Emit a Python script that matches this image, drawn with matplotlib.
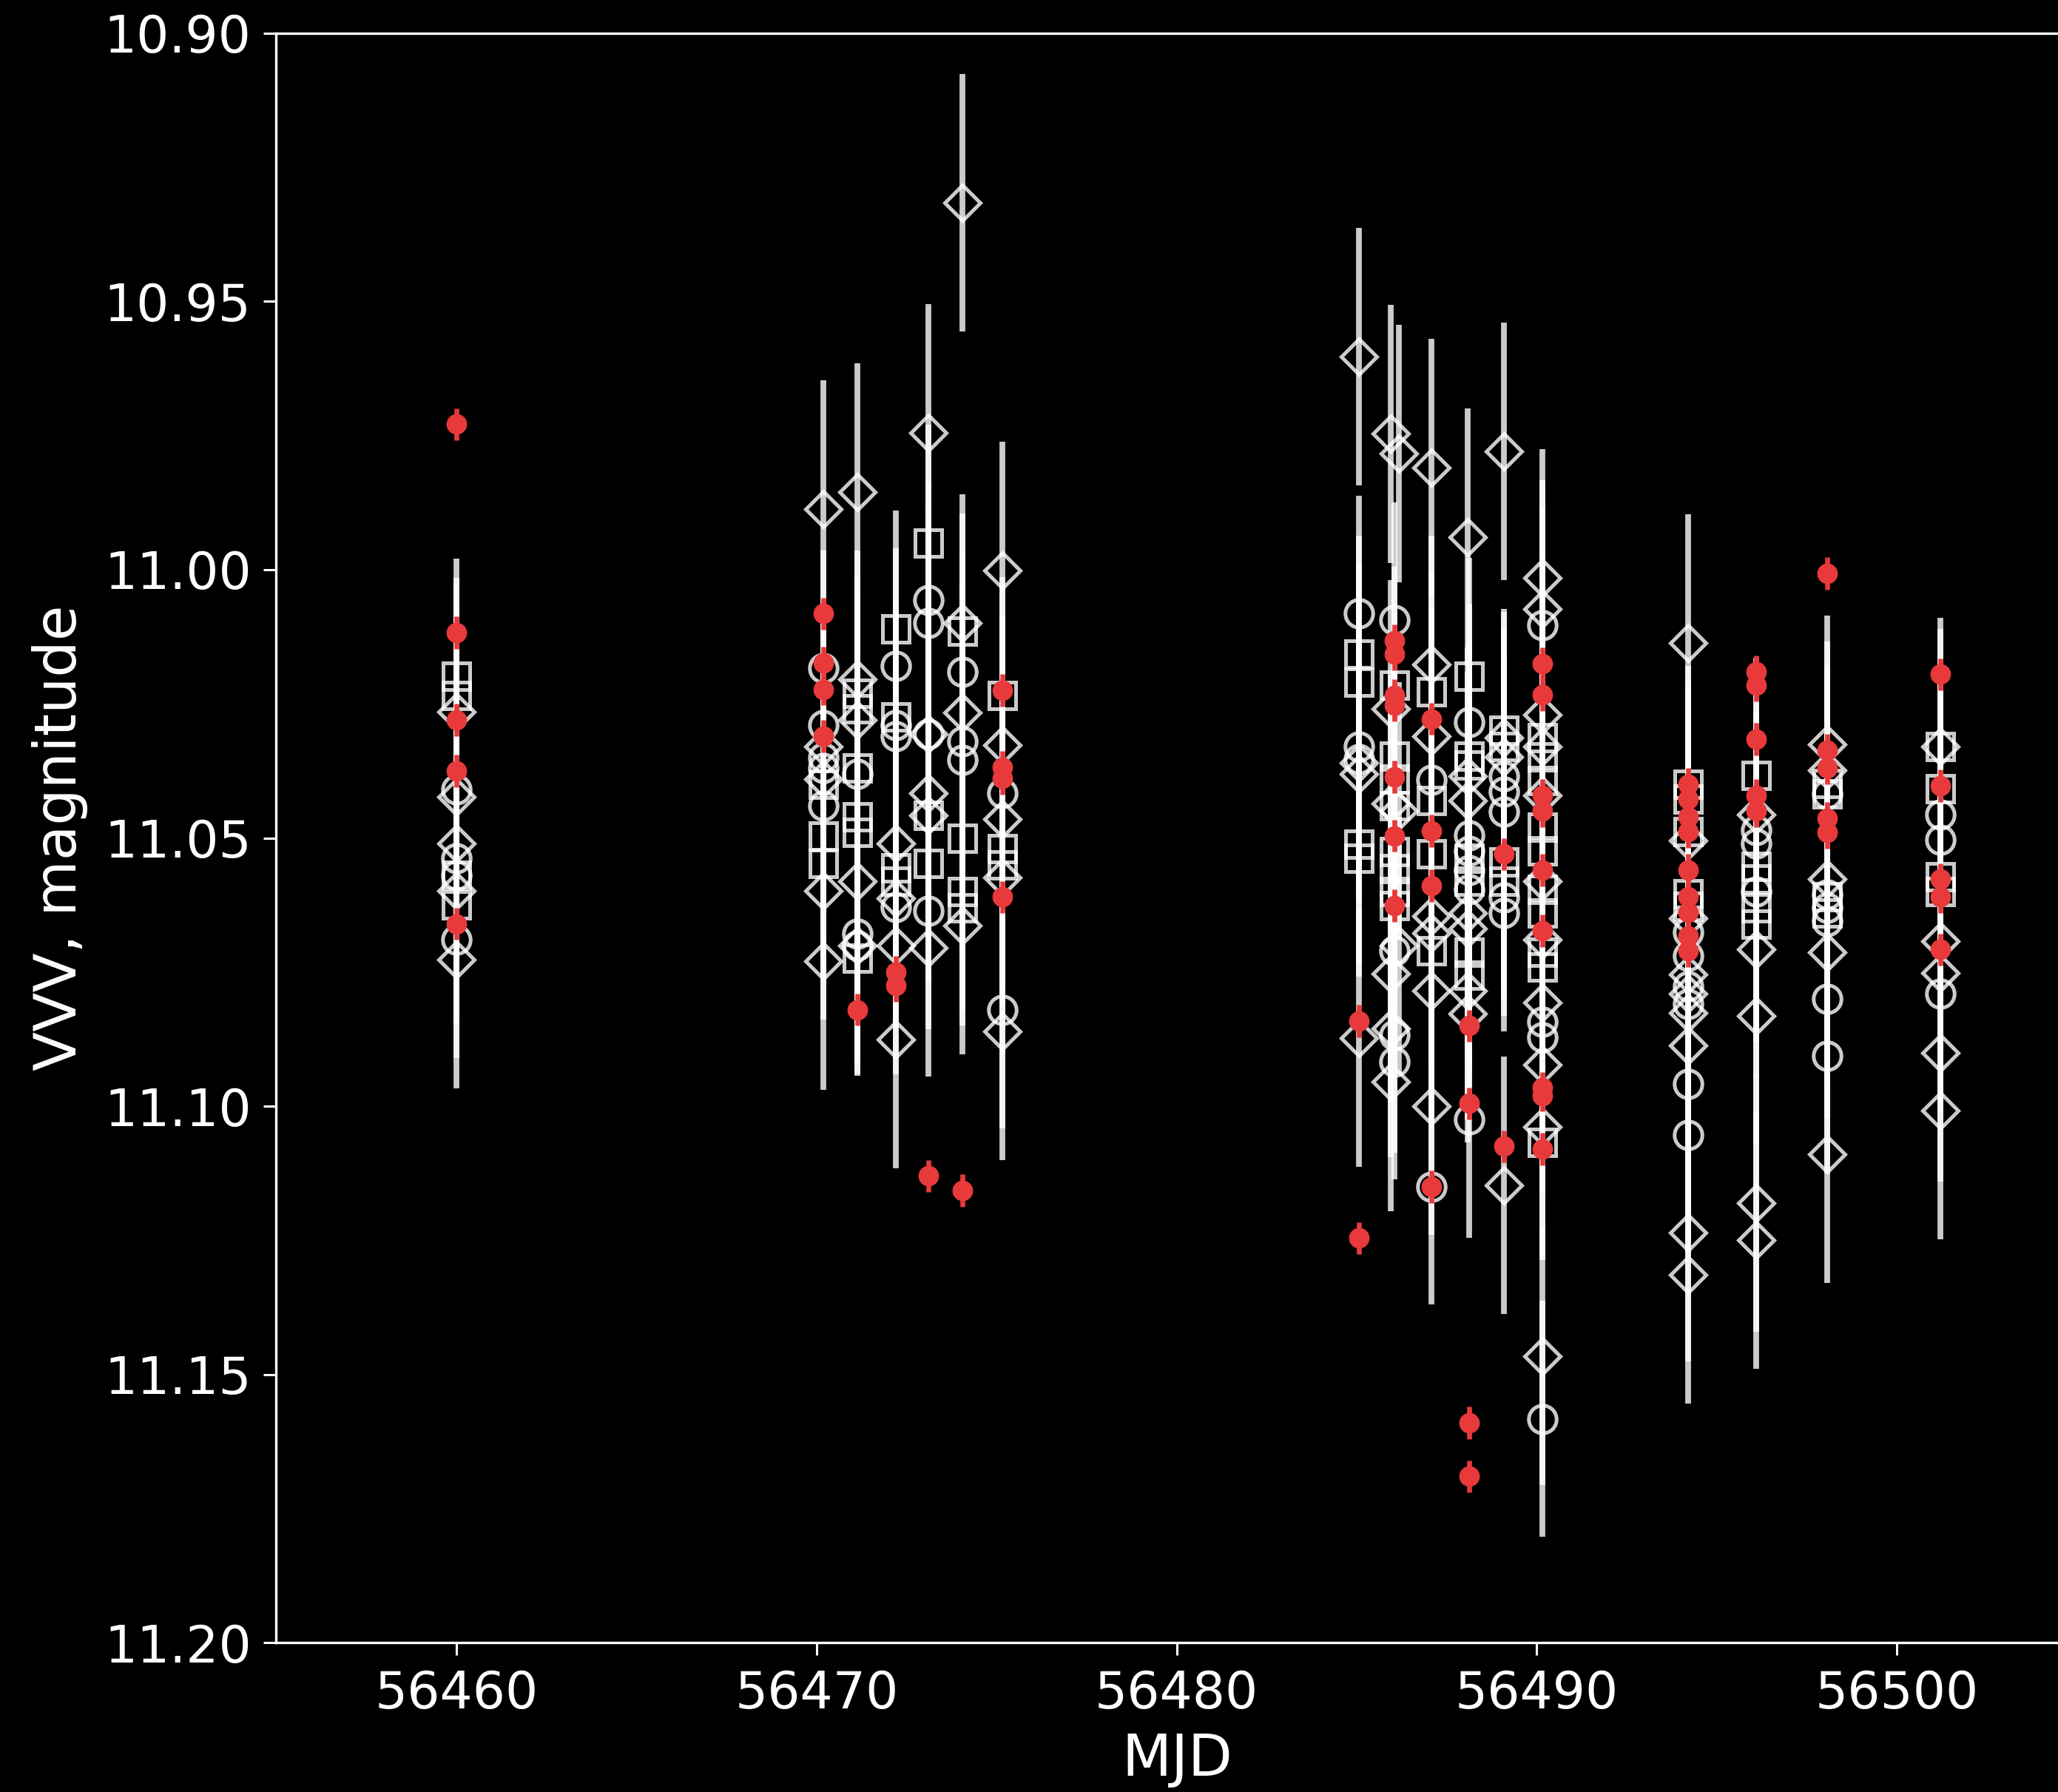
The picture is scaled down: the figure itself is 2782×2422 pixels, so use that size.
import matplotlib
matplotlib.use("Agg")
import matplotlib.pyplot as plt
from matplotlib.ticker import FormatStrFormatter, FixedLocator

# ---------------- data ----------------
circle_mjd = ([56460.0]*4 + [56470.18]*5 + [56471.13]*3 + [56472.19]*4 + [56473.1]*4 +
              [56474.05]*3 + [56475.15]*2 + [56485.07]*3 + [56486.05]*4 + [56487.08]*2 +
              [56488.12]*6 + [56489.09]*5 + [56490.15]*4 + [56494.2]*6 + [56496.1]*3 +
              [56498.07]*6 + [56501.2]*3)
circle_mag = [11.041, 11.0538, 11.057, 11.069,
              11.0184, 11.029, 11.035, 11.037, 11.044,
              11.038, 11.0679, 11.070,
              11.018, 11.029, 11.031, 11.0629,
              11.0057, 11.010, 11.0306, 11.0636,
              11.019, 11.032, 11.0355,
              11.0417, 11.0821,
              11.0082, 11.0329, 11.0353,
              11.0094, 11.071, 11.0867, 11.0917,
              11.0392, 11.115,
              11.0284, 11.0495, 11.0524, 11.056, 11.0596, 11.1025,
              11.0385, 11.0414, 11.0451, 11.0611, 11.064,
              11.0103, 11.0843, 11.0872, 11.1583,
              11.0676, 11.072, 11.0777, 11.081, 11.0959, 11.1053,
              11.0485, 11.051, 11.060,
              11.0418, 11.0606, 11.063, 11.0655, 11.080, 11.0906,
              11.0456, 11.0504, 11.079]
circle_err = 0.022

square_mjd = ([56460.0]*4 + [56470.18]*3 + [56471.13]*6 + [56472.19]*4 + [56473.1]*3 +
              [56474.05]*4 + [56475.15]*3 + [56485.07]*4 + [56486.05]*8 + [56487.08]*4 +
              [56488.12]*7 + [56489.09]*4 + [56490.15]*10 + [56494.2]*5 + [56496.1]*5 +
              [56498.07]*4 + [56501.2]*4)
square_mag = [11.0199, 11.0235, 11.057, 11.0625,
              11.040, 11.0497, 11.0548,
              11.023, 11.026, 11.037, 11.046, 11.049, 11.0724,
              11.011, 11.0275, 11.0556, 11.058,
              10.995, 11.0458, 11.0547,
              11.0115, 11.050, 11.060, 11.063,
              11.0234, 11.052, 11.055,
              11.0157, 11.0209, 11.0512, 11.0538,
              11.0215, 11.0348, 11.039, 11.044, 11.0525, 11.0557, 11.060, 11.0626,
              11.0227, 11.043, 11.053, 11.071,
              11.0198, 11.0348, 11.0364, 11.0538, 11.058, 11.0713, 11.0756,
              11.0299, 11.033, 11.0545, 11.058,
              11.0313, 11.0349, 11.0393, 11.048, 11.0524, 11.0596, 11.064, 11.0713, 11.074, 11.1067,
              11.040, 11.0428, 11.0488, 11.0604, 11.0627,
              11.0384, 11.0553, 11.0577, 11.063, 11.066,
              11.0398, 11.0418, 11.061, 11.064,
              11.033, 11.0408, 11.0572, 11.060]
square_err = 0.022

diamond_mjd = ([56460.0]*5 + [56470.18]*5 + [56471.13]*5 + [56472.19]*4 + [56473.1]*5 +
               [56474.05]*4 + [56475.15]*5 + [56485.07]*4 + [56485.95]*6 + [56486.17]*3 +
               [56487.08]*7 + [56488.07]*7 + [56489.09]*4 + [56490.15]*11 + [56494.2]*9 +
               [56496.1]*5 + [56498.07]*5 + [56501.2]*5)
diamond_mag = [11.0265, 11.0424, 11.051, 11.0598, 11.0727,
               10.9887, 11.033, 11.039, 11.0599, 11.073,
               10.9855, 11.0204, 11.028, 11.058, 11.070,
               11.051, 11.0613, 11.070, 11.0876,
               10.9745, 11.0306, 11.0417, 11.0458, 11.0705,
               10.9316, 11.010, 11.0266, 11.0663,
               11.0002, 11.0327, 11.0465, 11.0574, 11.086,
               10.9603, 11.036, 11.038, 11.0873,
               10.9747, 11.026, 11.0436, 11.0753, 11.0855, 11.0955,
               10.9784, 11.045, 11.070,
               10.981, 11.0177, 11.031, 11.0646, 11.0677, 11.0785, 11.100,
               10.994, 11.0385, 11.043, 11.064, 11.0669, 11.0785, 11.0828,
               10.978, 11.0313, 11.0349, 11.1147,
               11.0015, 11.0073, 11.027, 11.033, 11.042, 11.058, 11.069, 11.0807, 11.0923, 11.1038, 11.1466,
               11.0137, 11.0505, 11.0649, 11.0754, 11.079, 11.0826, 11.0887, 11.1236, 11.1314,
               11.0456, 11.0708, 11.0832, 11.118, 11.125,
               11.0326, 11.0374, 11.0577, 11.0713, 11.109,
               11.033, 11.0693, 11.0751, 11.090, 11.1008]
diamond_err = 0.024

red_mjd = ([56460.0]*5 + [56470.18]*4 + [56471.13]*1 + [56472.19]*2 + [56473.1]*1 +
           [56474.05]*1 + [56475.15]*4 + [56485.07]*2 + [56486.05]*7 + [56487.08]*4 +
           [56488.12]*4 + [56489.09]*2 + [56490.15]*9 + [56494.2]*9 + [56496.1]*5 +
           [56498.07]*5 + [56501.2]*5)
red_mag = [10.9729, 11.0117, 11.028, 11.0375, 11.066,
           11.0082, 11.0174, 11.0223, 11.031,
           11.082,
           11.075, 11.0775,
           11.113,
           11.1157,
           11.0225, 11.0368, 11.0389, 11.061,
           11.0841, 11.1246,
           11.0132, 11.0157, 11.0234, 11.0253, 11.0386, 11.0496, 11.0626,
           11.0278, 11.0487, 11.0589, 11.115,
           11.085, 11.0995, 11.159, 11.169,
           11.053, 11.1075,
           11.0175, 11.0233, 11.042, 11.045, 11.056, 11.0673, 11.0966, 11.098, 11.108,
           11.040, 11.0428, 11.046, 11.0488, 11.056, 11.061, 11.0638, 11.0682, 11.071,
           11.019, 11.0215, 11.0316, 11.042, 11.045,
           11.0007, 11.0336, 11.037, 11.0463, 11.049,
           11.0195, 11.0403, 11.0577, 11.061, 11.0708]
red_err = 0.003

x_ticks = [56460, 56470, 56480, 56490, 56500]
y_ticks = [10.90, 10.95, 11.00, 11.05, 11.10, 11.15, 11.20]

# ---------------- figure ----------------
plt.rcParams['font.family'] = ['DejaVu Sans']
fig = plt.figure(figsize=(13.91, 12.11), dpi=200, facecolor='black')
ax = fig.add_axes([0.1341, 0.0833, 1.0102 - 0.1341, 0.9815 - 0.0833])
ax.set_facecolor('black')

common = dict(mfc='none', mec='white', ecolor='white', elinewidth=2.8,
              capsize=0, alpha=0.8, ls='none')
ax.errorbar(circle_mjd, circle_mag, yerr=circle_err, fmt='o', ms=13.5, mew=1.8, zorder=2, **common)
ax.errorbar(square_mjd, square_mag, yerr=square_err, fmt='s', ms=13, mew=1.8, zorder=2, **common)
ax.errorbar(diamond_mjd, diamond_mag, yerr=diamond_err, fmt='D', ms=12, mew=1.8, zorder=2, **common)
ax.errorbar(red_mjd, red_mag, yerr=red_err, fmt='o', ms=9, color='#e8393b',
            ecolor='#e8393b', elinewidth=2.4, capsize=0, ls='none', zorder=5)

ax.set_xlim(56454.98, 56505.06)
ax.set_ylim(11.20, 10.90)
ax.xaxis.set_major_locator(FixedLocator(x_ticks))
ax.yaxis.set_major_locator(FixedLocator(y_ticks))
ax.yaxis.set_major_formatter(FormatStrFormatter('%.2f'))
ax.xaxis.set_major_formatter(FormatStrFormatter('%d'))

for s in ax.spines.values():
    s.set_color('white')
    s.set_linewidth(1.2)
ax.tick_params(colors='white', labelsize=25, length=6, width=1.1)
ax.tick_params(axis='x', pad=7)
ax.tick_params(axis='y', pad=6)

ax.set_xlabel('MJD', color='white', fontsize=28, labelpad=6)
ax.set_ylabel('VVV, magnitude', color='white', fontsize=28, labelpad=8)

fig.savefig('out.png', dpi=200, facecolor='black')
